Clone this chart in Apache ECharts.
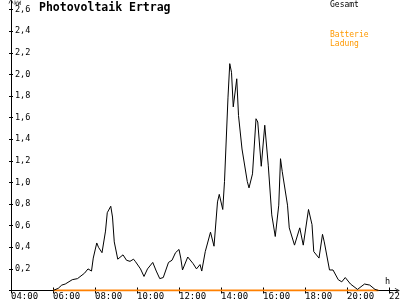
<!DOCTYPE html>
<html><head><meta charset="utf-8">
<script src="https://cdn.jsdelivr.net/npm/echarts@6/dist/echarts.min.js"></script>
<style>html,body{margin:0;padding:0;background:#fff}#c{width:400px;height:300px}</style>
</head><body><div id="c"></div>
<script>
const times = ['06:00','06:15','06:25','06:35','06:55','07:10','07:15','07:30','07:40','07:45','07:50','07:55','08:05','08:10','08:20','08:30','08:35','08:45','08:50','08:55','09:05','09:10','09:20','09:30','09:40','09:50','09:55','10:10','10:20','10:30','10:45','10:55','11:05','11:15','11:30','11:40','11:50','12:00','12:05','12:10','12:25','12:40','12:50','13:00','13:05','13:15','13:30','13:40','13:50','13:55','14:05','14:10','14:20','14:25','14:30','14:35','14:45','14:50','15:00','15:15','15:20','15:30','15:40','15:45','15:55','16:05','16:15','16:25','16:35','16:45','16:50','16:55','17:10','17:15','17:30','17:45','17:55','18:10','18:20','18:25','18:40','18:50','18:55','19:10','19:20','19:35','19:45','19:55','20:10','20:15','20:30','20:50','21:05','21:20','21:30'];
const gesamt = [0,0.02,0.05,0.06,0.1,0.11,0.12,0.16,0.2,0.2,0.18,0.3,0.44,0.40,0.35,0.55,0.72,0.78,0.68,0.45,0.29,0.28,0.33,0.28,0.27,0.29,0.27,0.2,0.13,0.2,0.26,0.18,0.11,0.12,0.26,0.28,0.35,0.38,0.3,0.19,0.31,0.25,0.2,0.24,0.18,0.36,0.54,0.41,0.82,0.89,0.75,1.01,1.79,2.1,2.02,1.70,1.96,1.62,1.31,1.01,0.95,1.08,1.59,1.56,1.15,1.53,1.16,0.70,0.50,0.79,1.22,1.10,0.79,0.58,0.42,0.58,0.42,0.75,0.61,0.36,0.30,0.52,0.45,0.19,0.19,0.10,0.08,0.12,0.06,0.06,0.01,0.06,0.05,0.01,0];
const batterieTimes = ['06:00','21:30'];
const batterie = [0,0];
const xTicks = [4,6,8,10,12,14,16,18,20,22];
const yTicks = [0.2,0.4,0.6,0.8,1.0,1.2,1.4,1.6,1.8,2.0,2.2,2.4,2.6];
const yTickMarks = [0].concat(yTicks);

function hrs(t){const p=t.split(':');return +p[0]+(+p[1])/60;}
const FONT='DejaVu Sans Mono';
const arrow='path://M0,10 L5,0 L10,10 L8.6,10 L5,2.8 L1.4,10 Z';

const chart=echarts.init(document.getElementById('c'),null,{renderer:'canvas'});
const baseX={type:'value',min:4,max:22.4,splitLine:{show:false}};
const baseY={type:'value',min:0,max:2.68,splitLine:{show:false}};
chart.setOption({
  animation:false,
  backgroundColor:'#fff',
  grid:{left:11,right:2.6,top:1,bottom:9.5,containLabel:false,outerBoundsMode:'none'},
  title:[
    {text:'Photovoltaik Ertrag',left:39,top:2,padding:0,textStyle:{fontFamily:FONT,fontWeight:'bold',fontSize:11.5,color:'#000'}},
    {text:'kW',left:14,top:0,padding:0,textStyle:{fontFamily:FONT,fontWeight:'normal',fontSize:6,color:'#000'}},
    {text:'Gesamt',left:330,top:0.5,padding:0,textStyle:{fontFamily:FONT,fontWeight:'normal',fontSize:8,color:'#000'}},
    {text:'Batterie\nLadung',left:330,top:31,padding:0,textStyle:{fontFamily:FONT,fontWeight:'normal',fontSize:8,lineHeight:8.5,color:'#ff9900'}},
    {text:'h',left:385,top:277,padding:0,textStyle:{fontFamily:FONT,fontWeight:'normal',fontSize:8.5,color:'#000'}}
  ],
  xAxis:[
    Object.assign({},baseX,{
      axisLine:{show:true,lineStyle:{color:'#000',width:1},symbol:['none',arrow],symbolSize:[7,5]},
      axisTick:{show:true,customValues:xTicks,length:3,lineStyle:{color:'#000'}},
      axisLabel:{show:true,customValues:xTicks,align:'left',margin:2,fontFamily:FONT,fontSize:9,color:'#000',
        formatter:v=>(v<10?'0':'')+v+':00'}
    }),
    Object.assign({},baseX,{position:'bottom',
      axisLine:{show:false},
      axisTick:{show:true,inside:true,customValues:xTicks,length:3,lineStyle:{color:'#000'}},
      axisLabel:{show:false}
    })
  ],
  yAxis:[
    Object.assign({},baseY,{
      axisLine:{show:true,lineStyle:{color:'#000',width:1},symbol:['none',arrow],symbolSize:[7,5]},
      axisTick:{show:true,customValues:yTickMarks,length:2,lineStyle:{color:'#000'}},
      axisLabel:{show:true,inside:true,customValues:yTicks,margin:4,fontFamily:FONT,fontSize:8.5,color:'#000',
        formatter:v=>v.toFixed(1).replace('.',',')}
    }),
    Object.assign({},baseY,{position:'left',
      axisLine:{show:false},
      axisTick:{show:true,inside:true,customValues:yTickMarks,length:2,lineStyle:{color:'#000'}},
      axisLabel:{show:false}
    })
  ],
  series:[
    {name:'Gesamt',type:'line',xAxisIndex:0,yAxisIndex:0,showSymbol:false,symbol:'none',smooth:false,
      lineStyle:{color:'#000',width:1},z:3,
      data:times.map((t,i)=>[hrs(t),gesamt[i]])},
    {name:'Batterie Ladung',type:'line',xAxisIndex:0,yAxisIndex:0,showSymbol:false,symbol:'none',
      lineStyle:{color:'#ff8000',width:2},z:2,
      data:batterieTimes.map((t,i)=>[hrs(t),batterie[i]])}
  ]
});
</script></body></html>
